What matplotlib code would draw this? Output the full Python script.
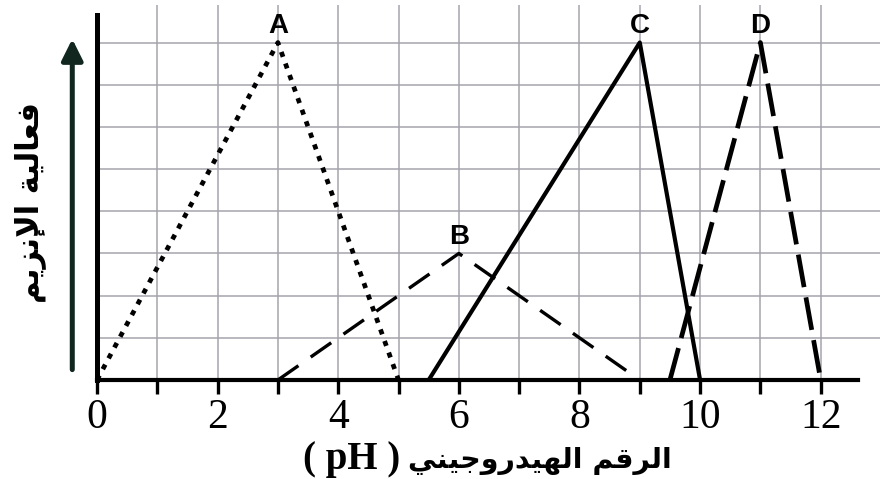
import matplotlib
matplotlib.use("Agg")
import matplotlib.pyplot as plt
import numpy as np

# enzyme activity curves (pH, relative activity)
ph_A = [0, 3, 5]
act_A = [0, 8, 0]
ph_B = [3, 6, 9]
act_B = [0, 3, 0]
ph_C = [5.5, 9, 10]
act_C = [0, 8, 0]
ph_D = [9.5, 11, 12]
act_D = [0, 8, 0]
names = ['A', 'B', 'C', 'D']
x_ticks = list(range(0, 13))
x_ticklabels = [str(t) if t % 2 == 0 else '' for t in x_ticks]

ylabel_ar = 'فعالية الإنزيم'
xlabel_ar = 'الرقم الهيدروجيني'
xlabel_unit = '( pH )'

# matplotlib has no arabic shaping -> presentation forms + reverse
FORMS = {
    'ا': (0xFE8D, 0xFE8E), 'إ': (0xFE87, 0xFE88), 'ة': (0xFE93, 0xFE94),
    'د': (0xFEA9, 0xFEAA), 'ر': (0xFEAD, 0xFEAE), 'ز': (0xFEAF, 0xFEB0),
    'و': (0xFEED, 0xFEEE),
    'لا': (0xFEFB, 0xFEFC), 'لإ': (0xFEF9, 0xFEFA),
    'ج': (0xFE9D, 0xFE9E, 0xFE9F, 0xFEA0), 'ع': (0xFEC9, 0xFECA, 0xFECB, 0xFECC),
    'ف': (0xFED1, 0xFED2, 0xFED3, 0xFED4), 'ق': (0xFED5, 0xFED6, 0xFED7, 0xFED8),
    'ل': (0xFEDD, 0xFEDE, 0xFEDF, 0xFEE0), 'م': (0xFEE1, 0xFEE2, 0xFEE3, 0xFEE4),
    'ن': (0xFEE5, 0xFEE6, 0xFEE7, 0xFEE8), 'ه': (0xFEE9, 0xFEEA, 0xFEEB, 0xFEEC),
    'ي': (0xFEF1, 0xFEF2, 0xFEF3, 0xFEF4),
}


def shape(s):
    toks = []
    i = 0
    while i < len(s):
        if s[i] == 'ل' and i + 1 < len(s) and s[i + 1] in 'اإ':
            toks.append(s[i:i + 2])
            i += 2
        else:
            toks.append(s[i])
            i += 1
    out = []
    for k, t in enumerate(toks):
        f = FORMS.get(t)
        if f is None:
            out.append(t)
            continue
        prev = toks[k - 1] if k > 0 else None
        nxt = toks[k + 1] if k + 1 < len(toks) else None
        jp = prev is not None and len(FORMS.get(prev, ())) == 4
        jn = len(f) == 4 and nxt in FORMS
        if jp and jn:
            idx = 3
        elif jn:
            idx = 2
        elif jp:
            idx = 1
        else:
            idx = 0
        out.append(chr(f[idx]))
    return ''.join(reversed(out))


fig = plt.figure(figsize=(8.8, 4.79), dpi=100)
ax = fig.add_axes([97 / 880, 99 / 479, 784 / 880, 375 / 479])
ax.set_xlim(0, 13)
ax.set_ylim(0, 8.89)

# grid
for gx in range(1, 14):
    ax.axvline(gx, color='#a4a4ac', lw=1.1, zorder=0)
for gy in range(1, 9):
    ax.axhline(gy, color='#a4a4ac', lw=1.1, zorder=0)

ax.plot(ph_A, act_A, color='black', lw=3.4, linestyle=(0, (1.1, 1.5)), solid_capstyle='butt')
ax.plot(ph_B, act_B, color='black', lw=2.4, linestyle=(0, (7.5, 4.5)))
ax.plot(ph_C, act_C, color='black', lw=3.0)
ax.plot(ph_D, act_D, color='black', lw=3.4, linestyle=(0, (7, 2.2)))

for nm, xs, ys in zip(names, [ph_A, ph_B, ph_C, ph_D], [act_A, act_B, act_C, act_D]):
    k = int(np.argmax(ys))
    ax.text(xs[k], ys[k] + 0.4, nm, ha='center', va='center', fontsize=20,
            fontweight='bold', family='Liberation Sans')

for s in ['top', 'right']:
    ax.spines[s].set_visible(False)
ax.spines['left'].set_linewidth(3.6)
ax.spines['left'].set_bounds(0, 8.65)
ax.spines['bottom'].set_linewidth(3.0)
ax.spines['bottom'].set_bounds(0, 12.62)

ax.set_xticks(x_ticks)
ax.set_xticklabels(x_ticklabels, family='Liberation Serif', fontsize=30)
ax.tick_params(axis='x', direction='out', length=10, width=2.4, pad=3)
ax.set_yticks([])

# activity arrow
ax.annotate('', xy=(-0.41, 8.15), xytext=(-0.41, 0.18),
            arrowprops=dict(arrowstyle='-|>', lw=3.6, color='#10261f', mutation_scale=32),
            annotation_clip=False)

fig.text(30 / 880, 1 - 203 / 479, shape(ylabel_ar), rotation=90, ha='center', va='center',
         fontsize=22, fontweight='bold', family='DejaVu Sans')
fig.text(400 / 880, 1 - 459 / 479, xlabel_unit, ha='right', va='center',
         fontsize=28, fontweight='bold', family='Liberation Serif')
fig.text(408 / 880, 1 - 461 / 479, shape(xlabel_ar), ha='left', va='center',
         fontsize=20.5, fontweight='bold', family='DejaVu Sans')

fig.savefig('out.png', dpi=100)
